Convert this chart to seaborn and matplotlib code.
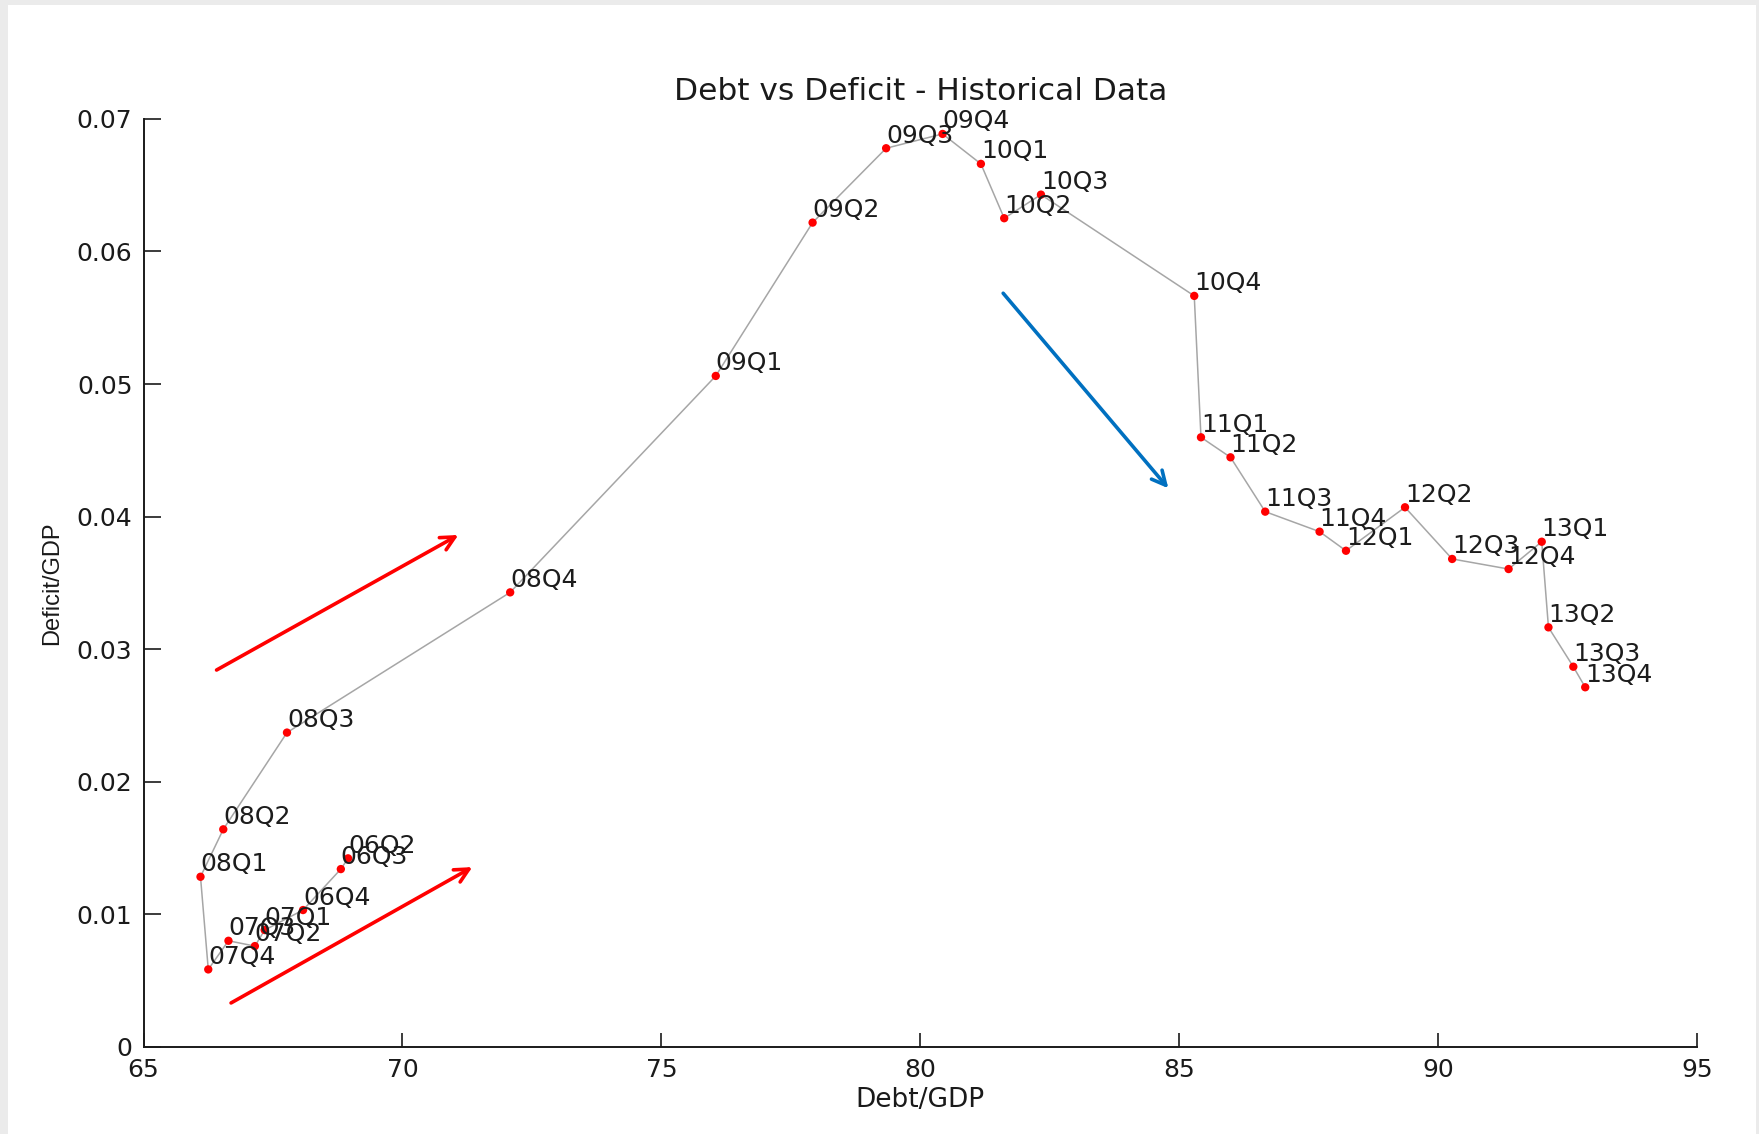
import matplotlib
matplotlib.use("Agg")
import matplotlib.pyplot as plt
from matplotlib.patches import Rectangle
import seaborn as sns
import pandas as pd

quarters = ['06Q2', '06Q3', '06Q4', '07Q1', '07Q2', '07Q3', '07Q4', '08Q1', '08Q2',
            '08Q3', '08Q4', '09Q1', '09Q2', '09Q3', '09Q4', '10Q1', '10Q2', '10Q3',
            '10Q4', '11Q1', '11Q2', '11Q3', '11Q4', '12Q1', '12Q2', '12Q3', '12Q4',
            '13Q1', '13Q2', '13Q3', '13Q4']
debt_gdp = [68.95, 68.81, 68.08, 67.34, 67.15, 66.64, 66.25, 66.10, 66.54,
            67.77, 72.08, 76.05, 77.92, 79.34, 80.43, 81.17, 81.62, 82.33,
            85.29, 85.42, 85.99, 86.66, 87.71, 88.22, 89.36, 90.27, 91.36,
            92.00, 92.13, 92.61, 92.84]
deficit_gdp = [0.01421, 0.01340, 0.01031, 0.00880, 0.00759, 0.00799, 0.00583, 0.01282, 0.01640,
               0.02370, 0.03428, 0.05061, 0.06218, 0.06779, 0.06887, 0.06661, 0.06251, 0.06429,
               0.05665, 0.04598, 0.04447, 0.04037, 0.03886, 0.03742, 0.04070, 0.03680, 0.03604,
               0.03810, 0.03164, 0.02867, 0.02712]

x_ticks = [65, 70, 75, 80, 85, 90, 95]
y_ticks = [0, 0.01, 0.02, 0.03, 0.04, 0.05, 0.06, 0.07]
y_tick_labels = ['0', '0.01', '0.02', '0.03', '0.04', '0.05', '0.06', '0.07']

# annotation arrows (start, end) in data units
red_arrow_1 = [(66.41, 0.02842), (71.08, 0.03861)]
red_arrow_2 = [(66.69, 0.00330), (71.35, 0.01355)]
blue_arrow = [(81.60, 0.05685), (84.79, 0.04213)]

df = pd.DataFrame({'quarter': quarters, 'debt': debt_gdp, 'deficit': deficit_gdp})

sns.set_style('white')
plt.rcParams['font.family'] = ['DejaVu Sans']

fig = plt.figure(figsize=(17.59, 11.34), dpi=100)
fig.patch.set_facecolor('#ebebeb')
fig.add_artist(Rectangle((8 / 1759, 0), (1756 - 8) / 1759, (1134 - 5) / 1134,
                         transform=fig.transFigure, facecolor='white',
                         edgecolor='none', zorder=0))
ax = fig.add_axes([0.0816, 0.0770, 0.8832, 0.8181])
ax.set_facecolor('none')

sns.lineplot(data=df, x='debt', y='deficit', sort=False, estimator=None,
             color='#a6a6a6', linewidth=1.1, ax=ax, zorder=2)
sns.scatterplot(data=df, x='debt', y='deficit', color='#ff0000', s=36,
                edgecolor='none', ax=ax, zorder=3)

for q, xv, yv in zip(quarters, debt_gdp, deficit_gdp):
    ax.annotate(q, (xv, yv), xytext=(0, 9), textcoords='offset points',
                ha='left', va='center', fontsize=18, color='#1c1c1c', zorder=4)

for arr, col in [(red_arrow_1, '#ff0000'), (red_arrow_2, '#ff0000'), (blue_arrow, '#0070c0')]:
    ax.annotate('', xy=arr[1], xytext=arr[0],
                arrowprops=dict(arrowstyle='->,head_length=1.0,head_width=0.5',
                                color=col, lw=2.6, shrinkA=0, shrinkB=0))

ax.set_xlim(65, 95)
ax.set_ylim(0, 0.07)
ax.set_xticks(x_ticks)
ax.set_xticklabels([str(t) for t in x_ticks])
ax.set_yticks(y_ticks)
ax.set_yticklabels(y_tick_labels)
for s in ['top', 'right']:
    ax.spines[s].set_visible(False)
for s in ['left', 'bottom']:
    ax.spines[s].set_color('#1a1a1a')
    ax.spines[s].set_linewidth(1.4)
ax.tick_params(axis='x', direction='in', length=10, width=1.2, pad=8,
               labelsize=18, colors='#1a1a1a', bottom=True)
ax.tick_params(axis='y', direction='in', length=12, width=1.2, pad=8,
               labelsize=18, colors='#1a1a1a', left=True)

ax.set_xlabel('Debt/GDP', fontsize=19, color='#1a1a1a', labelpad=4)
ax.set_ylabel('Deficit/GDP', fontsize=17, color='#1a1a1a', labelpad=10,
              family=['Liberation Sans', 'DejaVu Sans'])
ax.set_title('Debt vs Deficit - Historical Data', fontsize=22.5, color='#1a1a1a', pad=14)

fig.savefig('out.png', dpi=100, facecolor=fig.get_facecolor())
